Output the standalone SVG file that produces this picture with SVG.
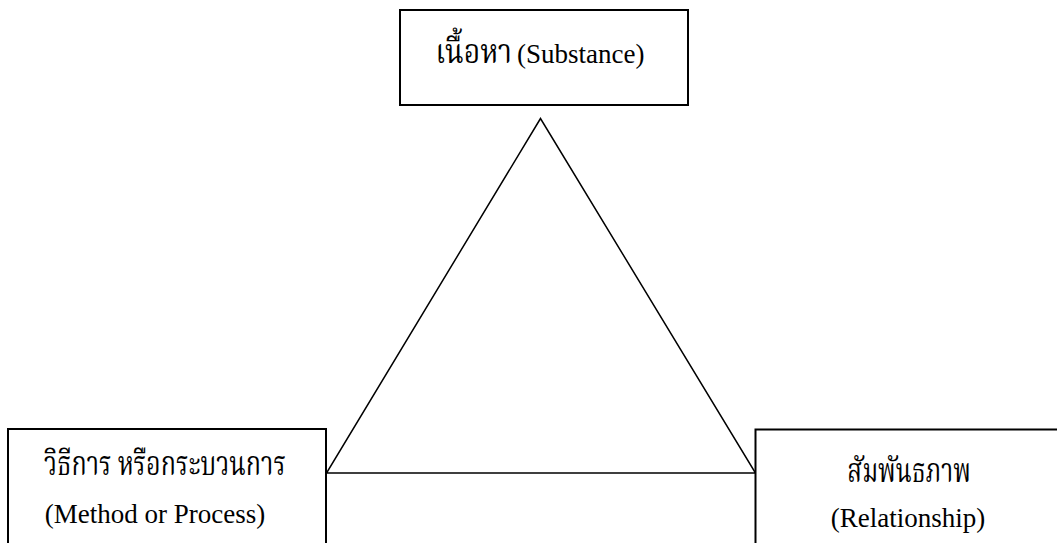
<svg xmlns="http://www.w3.org/2000/svg" width="1057" height="543" viewBox="0 0 1057 543">
<style>
.box{fill:#fff;stroke:#000;stroke-width:2}
.tri{fill:none;stroke:#000;stroke-width:1.5}
.t{font-family:'Liberation Serif','Times New Roman',serif;font-size:27px;fill:#000;text-anchor:middle}
.th{font-family:'Liberation Serif','Noto Serif Thai','Noto Sans Thai',serif;font-size:27px;fill:#000;text-anchor:middle}
</style>
<rect width="1057" height="543" fill="#fff"/>
<g id="connectors">
<polygon class="tri" points="540.5,118.5 326.5,473 755.5,473"/>
</g>
<g id="node-substance">
<rect class="box" x="400" y="10" width="288" height="95"/>
<text class="th" transform="translate(512,63) scale(1.05,1.25)" style="text-anchor:end">เนื้อหา</text>
<text class="t" x="517" y="63" style="text-anchor:start">(Substance)</text>
</g>
<g id="node-method">
<rect class="box" x="8" y="429" width="318" height="130"/>
<text class="th" transform="translate(165,475) scale(0.93,1.25)">วิธีการ หรือกระบวนการ</text>
<text class="t" x="155" y="523">(Method or Process)</text>
</g>
<g id="node-relationship">
<rect class="box" x="755.5" y="429.5" width="320" height="130"/>
<text class="th" transform="translate(909,482) scale(0.9,1.25)">สัมพันธภาพ</text>
<text class="t" x="908" y="527">(Relationship)</text>
</g>
</svg>
